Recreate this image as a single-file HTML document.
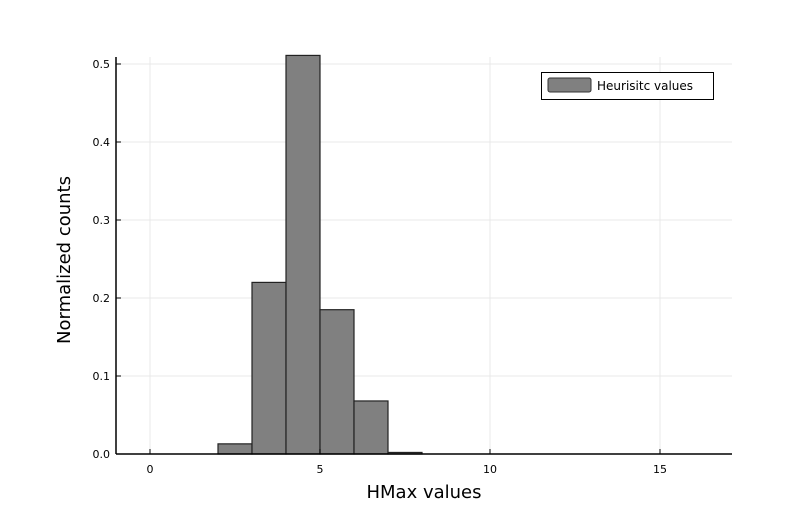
<!DOCTYPE html>
<html><head><meta charset="utf-8"><style>
body{margin:0;background:#fff;}
svg{display:block;font-family:"DejaVu Sans","Liberation Sans",sans-serif;}
</style></head><body>
<svg id="chart" width="800" height="516">
<g id="grid"></g>
<g id="bars"></g>
<g id="axes"></g>
<text x="424" y="498" text-anchor="middle" font-size="18" fill="#000">HMax values</text>
<text x="0" y="0" transform="translate(70,260) rotate(-90)" text-anchor="middle" font-size="18" fill="#000">Normalized counts</text>
<g>
<rect x="541.5" y="72.5" width="172" height="27" fill="#fff" stroke="#000" stroke-width="1"/>
<rect x="548" y="78" width="43" height="14" rx="2" fill="#808080" stroke="#333"/>
<text x="597" y="90" font-size="12" fill="#000">Heurisitc values</text>
</g>
</svg>
<script>
const binEdges=[0,1,2,3,4,5,6,7,8,9,10,11,12,13,14,15,16];
const counts=[0,0,0.013,0.22,0.511,0.185,0.068,0.002,0,0,0,0,0,0,0,0];
const xTicks=[0,5,10,15];
const yTicks=[0,0.1,0.2,0.3,0.4,0.5];
const yTickLabels=["0.0","0.1","0.2","0.3","0.4","0.5"];
const NS="http://www.w3.org/2000/svg";
const L=116,R=732,T=57,B=454;
const sx=v=>150+v*34;
const sy=v=>454-v*780;
function mk(t,a,p){const e=document.createElementNS(NS,t);for(const k in a)e.setAttribute(k,a[k]);p.appendChild(e);return e;}
const grid=document.getElementById('grid'),bars=document.getElementById('bars'),axes=document.getElementById('axes');
xTicks.forEach(v=>{const g=mk('line',{x1:sx(v),x2:sx(v),y1:T,y2:B,stroke:'#e8e8e8','stroke-width':1},grid);

});
yTicks.forEach(v=>{const g=mk('line',{x1:L,x2:R,y1:sy(v),y2:sy(v),stroke:'#e8e8e8','stroke-width':1},grid);

});
counts.forEach((c,i)=>{const x0=sx(binEdges[i]),x1=sx(binEdges[i+1]);
const r=mk('rect',{x:x0,y:sy(c),width:x1-x0,height:B-sy(c),fill:'#808080',stroke:'#222','stroke-width':1.2},bars);

});
mk('line',{x1:L,x2:R,y1:B,y2:B,stroke:'#000','stroke-width':1.5},axes);
mk('line',{x1:L,x2:L,y1:T,y2:B,stroke:'#000','stroke-width':1.5},axes);
xTicks.forEach(v=>{mk('line',{x1:sx(v),x2:sx(v),y1:B,y2:B-5,stroke:'#000'},axes);
const t=mk('text',{x:sx(v),y:473,'text-anchor':'middle','font-size':11},axes);t.textContent=v;

});
yTicks.forEach((v,i)=>{mk('line',{x1:L,x2:L+5,y1:sy(v),y2:sy(v),stroke:'#000'},axes);
const t=mk('text',{x:L-6,y:sy(v)+4,'text-anchor':'end','font-size':11},axes);t.textContent=yTickLabels[i];

});
</script>
</body></html>
